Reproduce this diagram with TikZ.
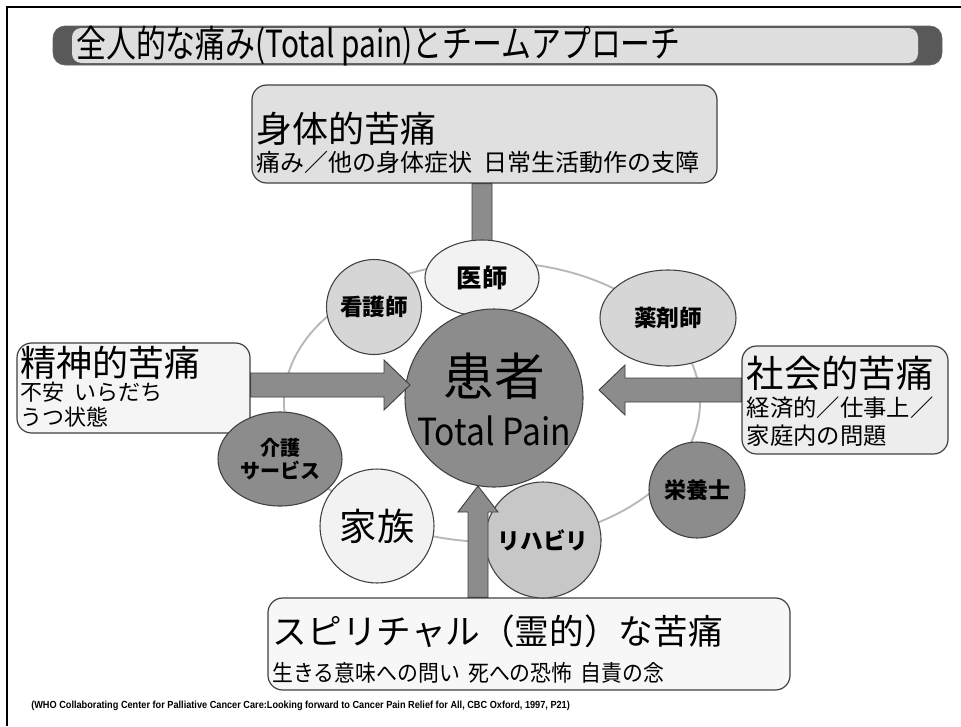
\documentclass[tikz,border=0pt]{standalone}
\usepackage{fontspec}
\setmainfont{Noto Sans CJK JP}
\newfontfamily\refont{Liberation Sans}
\usetikzlibrary{shapes.geometric,calc}
\definecolor{bgw}{gray}{1.0}
\definecolor{tdark}{gray}{0.35}
\definecolor{tlight}{gray}{0.87}
\definecolor{physfill}{gray}{0.88}
\definecolor{psyfill}{gray}{0.96}
\definecolor{socfill}{gray}{0.93}
\definecolor{spifill}{gray}{0.97}
\definecolor{ringc}{gray}{0.72}
\definecolor{linec}{gray}{0.25}
\definecolor{arrfill}{gray}{0.55}
\definecolor{cvlight}{gray}{0.95}
\definecolor{clight}{gray}{0.84}
\definecolor{cmid}{gray}{0.78}
\definecolor{cdark}{gray}{0.55}
\newcommand{\fs}[1]{\fontsize{#1pt}{#1pt}\selectfont}
\begin{document}
\begin{tikzpicture}[x=0.75pt,y=-0.75pt,
  painbox/.style={draw=linec, line width=0.9pt, rounded corners=11pt, inner sep=0pt},
  member/.style={draw=linec, line width=0.8pt, inner sep=0pt, font=\bfseries, align=center},
  rnd/.style={member, circle},
  ell/.style={member, ellipse},
  barrow/.style={fill=arrfill, draw=linec, line width=0.7pt, line join=miter},
  hdr/.style={anchor=west, inner sep=0pt},
]
\useasboundingbox (0,0) rectangle (961,726);
\fill[bgw] (0,0) rectangle (961,726);
% frame
\draw[line width=1.3pt, black] (7,726) -- (7,7) -- (961,7);

% title bar
\fill[tdark, rounded corners=9pt] (53,26) rectangle (942,65);
\draw[black!60, rounded corners=9pt, line width=0.5pt] (53,26) rectangle (942,65);
\fill[tlight, rounded corners=7pt] (72,28) rectangle (918,63);
\node[hdr] (title) at (76,46) {\scalebox{0.8}[1]{\fs{28}全人的な痛み(Total pain)とチームアプローチ}};

% ring
\draw[ringc, line width=1.4pt] (492,402) ellipse [x radius=208, y radius=140];

% pain boxes
\node[painbox, fill=physfill, minimum width=465*0.75pt, minimum height=98*0.75pt] (phys) at (484.5,134) {};
\node[hdr] (physT) at ($(phys.north west)+(5,44)$) {\fs{27}身体的苦痛};
\node[hdr] (physS) at ($(phys.north west)+(5,78)$) {\fs{18}痛み／他の身体症状\hspace{0.45em}日常生活動作の支障};

\node[painbox, fill=psyfill, minimum width=233*0.75pt, minimum height=90*0.75pt] (psy) at (133.5,388) {};
\node[hdr] (psyT) at ($(psy.north west)+(4,20)$) {\fs{27}精神的苦痛};
\node[hdr] (psyS1) at ($(psy.north west)+(4,50)$) {\fs{16.5}不安\hspace{0.45em}いらだち};
\node[hdr] (psyS2) at ($(psy.north west)+(4,75)$) {\fs{16.5}うつ状態};

\node[painbox, fill=socfill, minimum width=206*0.75pt, minimum height=108*0.75pt] (soc) at (845,400) {};
\node[hdr] (socT) at ($(soc.north west)+(5,28)$) {\fs{28}社会的苦痛};
\node[hdr] (socS1) at ($(soc.north west)+(5,62)$) {\fs{17.5}経済的／仕事上／};
\node[hdr] (socS2) at ($(soc.north west)+(5,90)$) {\fs{17.5}家庭内の問題};

\node[painbox, fill=spifill, minimum width=522*0.75pt, minimum height=92*0.75pt] (spi) at (529,644) {};
\node[hdr] (spiT) at ($(spi.north west)+(5,34)$) {\fs{26}スピリチャル（霊的）な苦痛};
\node[hdr] (spiS) at ($(spi.north west)+(5,75)$) {\scalebox{0.92}[1]{\fs{17}生きる意味への問い\hspace{0.4em}死への恐怖\hspace{0.4em}自責の念}};

% coordinates for down arrow
\coordinate (docpos) at (482,278);
\coordinate (dS) at (docpos |- phys.south);
\coordinate (dT) at (482,343);
\draw[barrow] ($(dS)+(-10,0)$) -- ($(dT)+(-10,-26)$) -- ($(dT)+(-20,-26)$) -- (dT)
  -- ($(dT)+(20,-26)$) -- ($(dT)+(10,-26)$) -- ($(dS)+(10,0)$) -- cycle;

% team members
\node[ell, fill=cvlight, minimum width=114*0.75pt, minimum height=76*0.75pt] (doc) at (docpos) {\fs{19}医師};
\node[rnd, fill=clight, minimum size=95*0.75pt] (nurse) at (374,307) {\fs{17}看護師};
\node[ell, fill=clight, minimum width=136*0.75pt, minimum height=96*0.75pt] (pharm) at (668,318) {\fs{17}薬剤師};
\node[circle, draw=linec, line width=0.8pt, fill=cdark, minimum size=178*0.75pt, inner sep=0pt] (pat) at (494,398) {};
\node[inner sep=0pt] (patA) at ($(pat.center)+(0,-22)$) {\fs{38}患者};
\node[inner sep=0pt] (patB) at ($(pat.center)+(0,33)$) {\scalebox{0.9}[1]{\fs{28}Total Pain}};
\node[ell, fill=cdark, minimum width=124*0.75pt, minimum height=94*0.75pt] (care) at (280,459) {\fs{15}介護\\[2pt]\fs{15}サービス};
\node[circle, draw=linec, line width=0.8pt, fill=cvlight, minimum size=114*0.75pt, inner sep=0pt] (fam) at (377,526) {\fs{28}家族};
\node[rnd, fill=cmid, minimum size=116*0.75pt] (reha) at (543,540) {\fs{17}リハビリ};
\node[rnd, fill=cdark, minimum size=96*0.75pt] (diet) at (697,490) {\fs{16.5}栄養士};

% left arrow psy -> patient
\coordinate (lS) at (psy.east |- 0,385);
\coordinate (lT) at (410,385);
\draw[barrow] ($(lS)+(0,-12)$) -- ($(lT)+(-26,-12)$) -- ($(lT)+(-26,-25)$) -- (lT)
  -- ($(lT)+(-26,25)$) -- ($(lT)+(-26,12)$) -- ($(lS)+(0,12)$) -- cycle;

% right arrow soc -> patient
\coordinate (rS) at (soc.west |- 0,390);
\coordinate (rT) at (599,390);
\draw[barrow] ($(rS)+(0,-12)$) -- ($(rT)+(26,-12)$) -- ($(rT)+(26,-25)$) -- (rT)
  -- ($(rT)+(26,25)$) -- ($(rT)+(26,12)$) -- ($(rS)+(0,12)$) -- cycle;

% up arrow spi -> patient
\coordinate (uS) at (478,0 |- spi.north);
\coordinate (uT) at (478,486);
\draw[barrow] ($(uS)+(-10,0)$) -- ($(uT)+(-10,26)$) -- ($(uT)+(-20,26)$) -- (uT)
  -- ($(uT)+(20,26)$) -- ($(uT)+(10,26)$) -- ($(uS)+(10,0)$) -- cycle;

% citation
\node[anchor=west, inner sep=0pt] (cite) at (31,706) {\resizebox{404pt}{5.6pt}{\refont\bfseries (WHO Collaborating Center for Palliative Cancer Care:Looking forward to Cancer Pain Relief for All, CBC Oxford, 1997, P21)}};
\end{tikzpicture}
\end{document}
